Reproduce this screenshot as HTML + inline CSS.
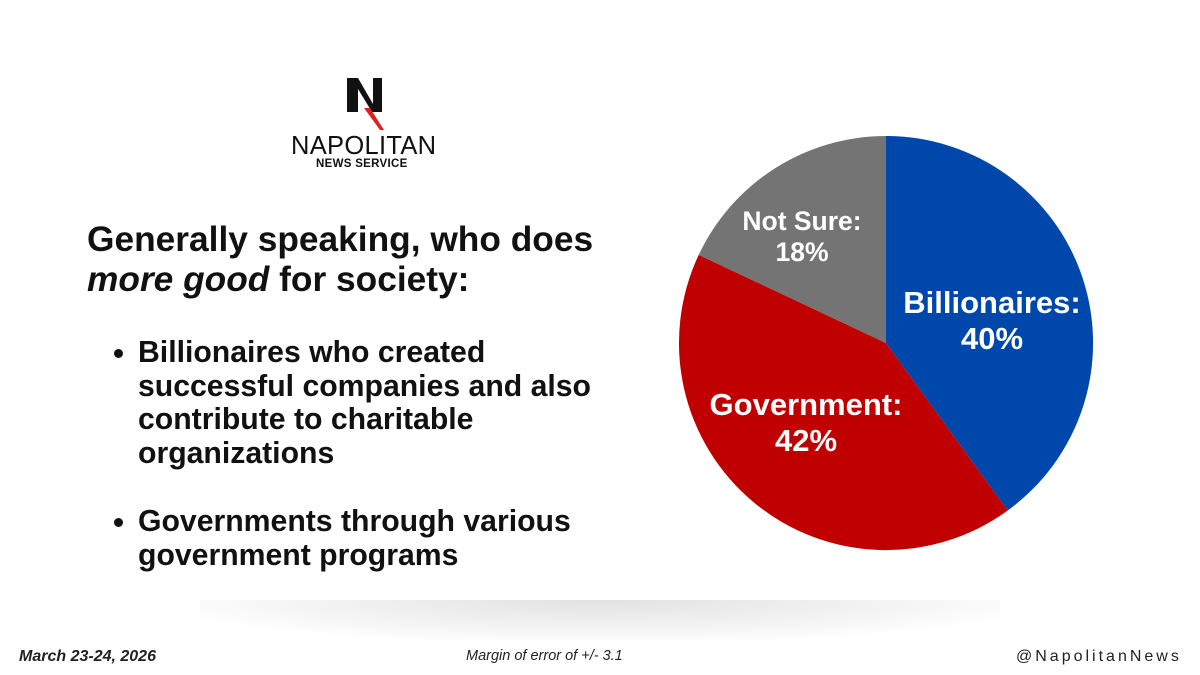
<!DOCTYPE html>
<html><head><style>
body{margin:0;width:1200px;height:675px;background:#fff;position:relative;overflow:hidden;font-family:"Liberation Sans",sans-serif;}
.a{position:absolute;}
.q{left:87px;top:220px;font-size:35.3px;font-weight:bold;color:#111;line-height:40px;white-space:nowrap;}
ul{position:absolute;left:110px;top:336px;margin:0;padding:0 0 0 28px;font-size:30.2px;font-weight:bold;color:#111;line-height:33.5px;white-space:nowrap;}
li{margin-bottom:35px;}
.f{top:648px;font-size:16px;color:#222;}
</style></head><body>
<div class="a" style="left:200px;top:600px;width:800px;height:40px;background:radial-gradient(ellipse at 50% 0%,#e2e2e2 0%,#f3f3f3 50%,#fff 80%);"></div>
<svg class="a" style="left:340px;top:76px" width="50" height="56">
<polygon points="7,2 18,2 33,28 33,2 42,2 42,36 32,36 18,13 18,36 7,36" fill="#111"/>
<polygon points="24,32 30,32 44,54 40,54" fill="#e02020"/>
</svg>
<div class="a" style="left:291px;top:132px;font-size:25.5px;color:#111;letter-spacing:0.3px">NAPOLITAN</div>
<div class="a" style="left:316px;top:158px;font-size:11.5px;font-weight:bold;color:#111;letter-spacing:0.3px">NEWS SERVICE</div>
<div class="a q">Generally speaking, who does<br><i>more good</i> for society:</div>
<ul><li>Billionaires who created<br>successful companies and also<br>contribute to charitable<br>organizations</li><li>Governments through various<br>government programs</li></ul>
<svg class="a" style="left:0;top:0" width="1200" height="675">
<path d="M886,343 L886,136 A207,207 0 0 1 1007.7,510.5 Z" fill="#0047ab"/>
<path d="M886,343 L1007.7,510.5 A207,207 0 0 1 698.7,254.9 Z" fill="#c00000"/>
<path d="M886,343 L698.7,254.9 A207,207 0 0 1 886,136 Z" fill="#747474"/>
<g font-family="Liberation Sans" font-weight="bold" fill="#fff" text-anchor="middle">
<text x="802" y="230" font-size="26.5">Not Sure:</text><text x="802" y="261" font-size="26.5">18%</text>
<text x="992" y="313" font-size="31">Billionaires:</text><text x="992" y="349" font-size="31">40%</text>
<text x="806" y="415" font-size="31">Government:</text><text x="806" y="451" font-size="31">42%</text>
</g></svg>
<div class="a f" style="left:19px;font-weight:bold;font-style:italic">March 23-24, 2026</div>
<div class="a f" style="left:466px;font-style:italic;font-size:14.5px">Margin of error of +/- 3.1</div>
<div class="a f" style="left:1016px;letter-spacing:3px">@NapolitanNews</div>
</body></html>
